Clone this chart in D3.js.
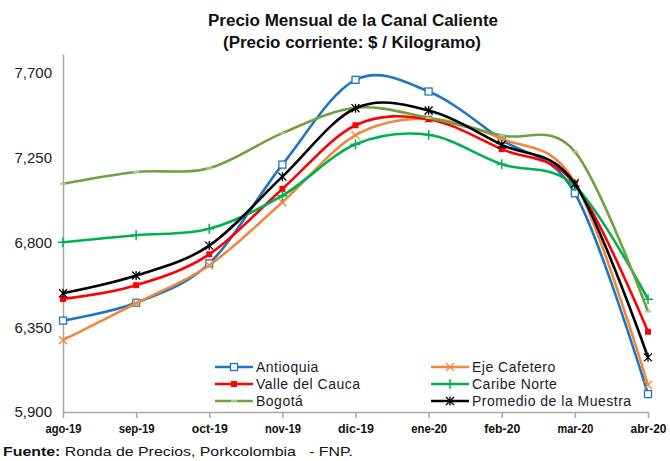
<!DOCTYPE html>
<html>
<head>
<meta charset="utf-8">
<script src="https://cdn.jsdelivr.net/npm/d3@7/dist/d3.min.js"></script>
<style>
  html, body { margin: 0; padding: 0; background: #fff; }
  svg { display: block; }
  text { font-family: "Liberation Sans", Arial, sans-serif; }
</style>
</head>
<body>
<svg id="chart" width="670" height="461"></svg>
<script>
const months = ["ago-19","sep-19","oct-19","nov-19","dic-19","ene-20","feb-20","mar-20","abr-20"];
const antioquia = [6385, 6480, 6689, 7213, 7663, 7601, 7345, 7061, 5995];
const ejeCafetero = [6281, 6477, 6679, 7013, 7369, 7456, 7350, 7118, 6043];
const valleCauca = [6500, 6573, 6737, 7084, 7422, 7454, 7295, 7110, 6326];
const caribeNorte = [6801, 6838, 6872, 7048, 7321, 7371, 7215, 7100, 6498];
const bogota = [7111, 7174, 7194, 7380, 7515, 7461, 7367, 7282, 6433];
const promedio = [6530, 6624, 6783, 7149, 7512, 7500, 7318, 7112, 6190];
const yTicks = [5900, 6350, 6800, 7250, 7700];
const yDomain = [5900, 7800];
const seriesNames = ["Antioquia","Eje Cafetero","Valle del Cauca","Caribe Norte","Bogotá","Promedio de la Muestra"];

const series = [
  {name: seriesNames[0], values: antioquia, color: "#1f74c4", marker: "squareOpen"},
  {name: seriesNames[1], values: ejeCafetero, color: "#f0873b", marker: "x"},
  {name: seriesNames[2], values: valleCauca, color: "#ff0000", marker: "squareFill"},
  {name: seriesNames[3], values: caribeNorte, color: "#00b050", marker: "plus"},
  {name: seriesNames[4], values: bogota, color: "#70a042", marker: "dash"},
  {name: seriesNames[5], values: promedio, color: "#000000", marker: "star"}
];

const svg = d3.select("#chart");
const plotL = 63, plotR = 648, plotT = 54, plotB = 412;

const x = d3.scalePoint().domain(months).range([plotL, plotR]);
const y = d3.scaleLinear().domain(yDomain).range([plotB, plotT]);

// Title
svg.append("text").attr("x", 353).attr("y", 26).attr("text-anchor", "middle")
  .attr("font-size", 16).attr("font-weight", "bold").attr("fill", "#111")
  .attr("textLength", 290).attr("lengthAdjust", "spacingAndGlyphs")
  .text("Precio Mensual de la Canal Caliente");
svg.append("text").attr("x", 352).attr("y", 48).attr("text-anchor", "middle")
  .attr("font-size", 16).attr("font-weight", "bold").attr("fill", "#111")
  .attr("textLength", 258).attr("lengthAdjust", "spacingAndGlyphs")
  .text("(Precio corriente: $ / Kilogramo)");

// Y axis
const yAxis = d3.axisLeft(y).tickValues(yTicks).tickSize(0).tickPadding(11)
  .tickFormat(d3.format(","));
const gy = svg.append("g").attr("transform", `translate(${plotL},0)`).call(yAxis);
gy.select(".domain").attr("stroke", "#a6a6a6").attr("stroke-width", 1.5);
gy.selectAll("text").attr("font-size", 15).attr("fill", "#222")
  .style("font-family", "'Liberation Sans', Arial, sans-serif");

// X axis
const xAxis = d3.axisBottom(x).tickSize(6).tickPadding(5).tickSizeOuter(0);
const gx = svg.append("g").attr("transform", `translate(0,${plotB})`).call(xAxis);
gx.select(".domain").attr("stroke", "#a6a6a6").attr("stroke-width", 1.5);
gx.selectAll(".tick line").attr("stroke", "#a6a6a6").attr("stroke-width", 1.5);
gx.selectAll("text").attr("font-size", 13.5).attr("font-weight", "bold").attr("fill", "#111")
  .attr("textLength", 36).attr("lengthAdjust", "spacingAndGlyphs")
  .style("font-family", "'Liberation Sans', Arial, sans-serif");

// Markers
function drawMarker(g, type, cx, cy, color) {
  if (type === "squareOpen") {
    g.append("rect").attr("x", cx - 3.5).attr("y", cy - 3.5).attr("width", 7).attr("height", 7)
      .attr("fill", "#fff").attr("stroke", color).attr("stroke-width", 1.3);
  } else if (type === "squareFill") {
    g.append("rect").attr("x", cx - 3).attr("y", cy - 3).attr("width", 6).attr("height", 6)
      .attr("fill", color);
  } else if (type === "x") {
    g.append("path").attr("d", `M${cx-4},${cy-4}L${cx+4},${cy+4}M${cx-4},${cy+4}L${cx+4},${cy-4}`)
      .attr("stroke", color).attr("stroke-width", 1.3).attr("fill", "none");
  } else if (type === "plus") {
    g.append("path").attr("d", `M${cx-5},${cy}L${cx+5},${cy}M${cx},${cy-5}L${cx},${cy+5}`)
      .attr("stroke", color).attr("stroke-width", 1.5).attr("fill", "none");
  } else if (type === "dash") {
    g.append("path").attr("d", `M${cx-3},${cy}L${cx+3},${cy}`)
      .attr("stroke", "#a8cc8a").attr("stroke-width", 2).attr("fill", "none");
  } else if (type === "star") {
    g.append("path").attr("d", `M${cx-4},${cy-4}L${cx+4},${cy+4}M${cx-4},${cy+4}L${cx+4},${cy-4}M${cx},${cy-4.5}L${cx},${cy+4.5}`)
      .attr("stroke", color).attr("stroke-width", 1.3).attr("fill", "none");
  }
}

const line = d3.line()
  .x((d, i) => x(months[i]))
  .y(d => y(d))
  .curve(d3.curveCardinal.tension(0));

const plot = svg.append("g");
series.forEach(s => {
  const g = plot.append("g");
  g.append("path").attr("d", line(s.values)).attr("fill", "none")
    .attr("stroke", s.color).attr("stroke-width", 2.6).attr("stroke-linejoin", "round");
  s.values.forEach((v, i) => drawMarker(g, s.marker, x(months[i]), y(v), s.color));
});

// Legend
const legendPos = [
  {lx: 215, ly: 367}, {lx: 431, ly: 367},
  {lx: 215, ly: 384}, {lx: 431, ly: 384},
  {lx: 215, ly: 401}, {lx: 431, ly: 401}
];
const legend = svg.append("g");
series.forEach((s, i) => {
  const p = legendPos[i];
  const g = legend.append("g");
  g.append("line").attr("x1", p.lx).attr("x2", p.lx + 38).attr("y1", p.ly).attr("y2", p.ly)
    .attr("stroke", s.color).attr("stroke-width", 2.6);
  drawMarker(g, s.marker, p.lx + 19, p.ly, s.color);
  g.append("text").attr("x", p.lx + 41).attr("y", p.ly + 5)
    .attr("font-size", 14).attr("letter-spacing", 0.5).attr("fill", "#1a1a2e")
    .text(s.name);
});

// Source
const src = svg.append("text").attr("x", 3).attr("y", 456).attr("font-size", 13.5).attr("fill", "#111")
  .attr("textLength", 350).attr("lengthAdjust", "spacingAndGlyphs");
src.append("tspan").attr("font-weight", "bold").text("Fuente:");
src.append("tspan").text(" Ronda de Precios, Porkcolombia \u00a0 - FNP.");
</script>
</body>
</html>
